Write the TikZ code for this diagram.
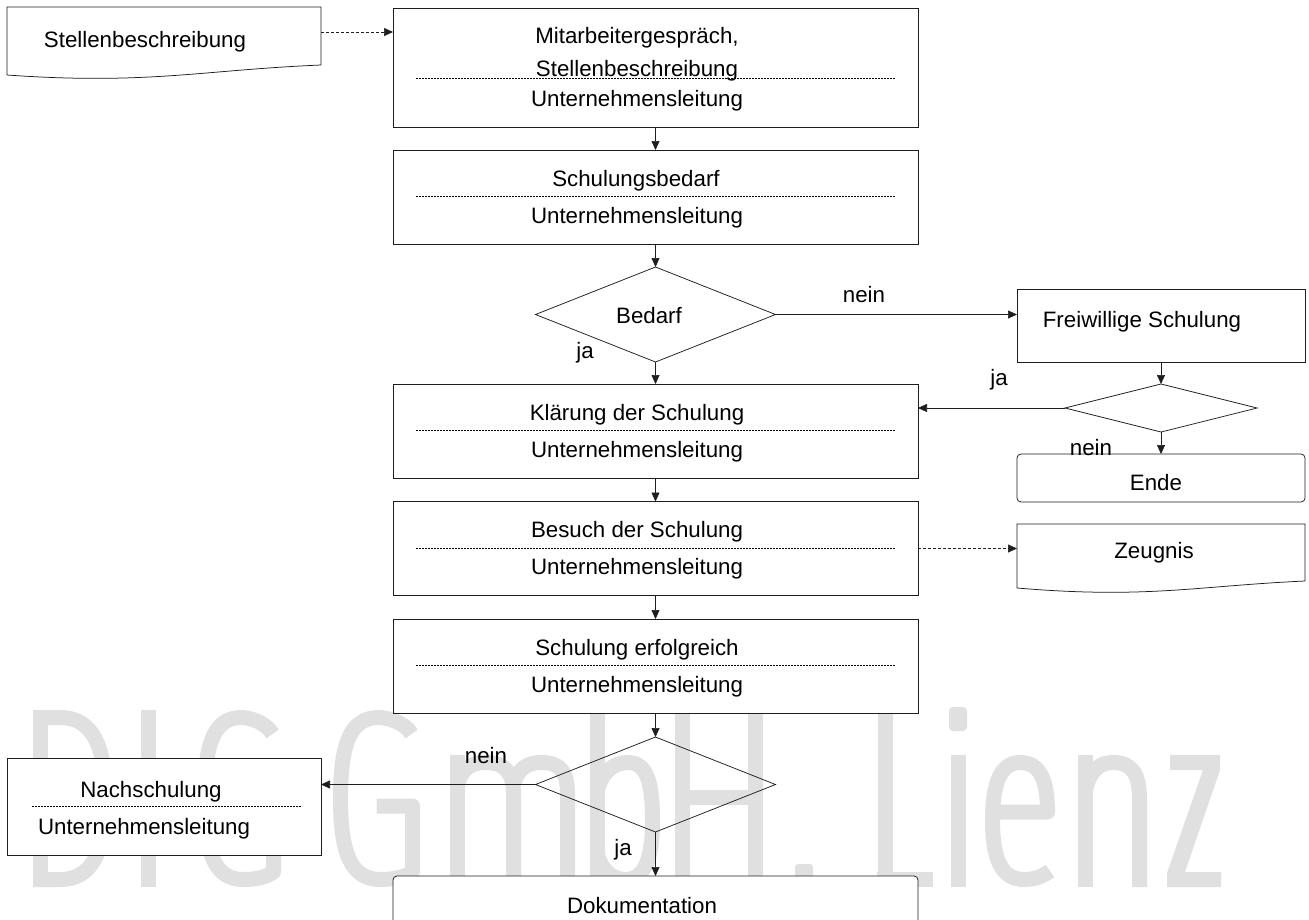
\documentclass[tikz,border=0pt]{standalone}
\usepackage{fontspec}
\setmainfont{Liberation Sans}
\usetikzlibrary{arrows.meta,shapes.geometric,calc}
\definecolor{wmgray}{RGB}{224,224,224}
\definecolor{edge}{RGB}{30,30,30}

\begin{document}
\begin{tikzpicture}[x=1pt,y=-1pt,
  every node/.style={inner sep=0pt, outer sep=0pt},
  lbl/.style={font=\fontsize{22.3}{26}\selectfont, anchor=base},
  proc/.style={draw=edge, fill=white, line width=0.75pt, rectangle,
    minimum width=525pt, minimum height=94pt},
  sidebox/.style={draw=edge, fill=white, line width=0.75pt, rectangle},
  decision/.style={draw=edge, line width=0.75pt, diamond,
    minimum width=240pt, minimum height=95pt},
  frame/.style={rectangle, minimum width=#1},
  sep/.style={line width=0.6pt, dash pattern=on 2pt off 1pt},
  conn/.style={line width=0.65pt, draw=edge, -{Triangle[length=9pt,width=8pt]}},
  dconn/.style={conn, dash pattern=on 3pt off 2pt},
  docline/.style={draw=edge, fill=white, line width=0.75pt},
  wmstroke/.style={draw=wmgray, line width=15pt, line cap=butt, line join=round},
  wmfill/.style={fill=wmgray}
]
\useasboundingbox (0,0) rectangle (1309,919);
\fill[white] (0,0) rectangle (1309,919);
\clip (0,0) rectangle (1309,919);

% company lettering "DIG GmbH. Lienz" behind the chart (condensed sans, drawn as strokes)
\begin{scope}[wmstroke]
  % D
  \draw (40.5,710) -- (40.5,887);
  \draw (33,717.5) -- (60,717.5) .. controls (92,717.5) and (105.5,745) .. (105.5,798.5)
        .. controls (105.5,852) and (92,879.5) .. (60,879.5) -- (33,879.5);
  % I
  \draw (148.5,710) -- (148.5,887);
  % G
  \draw (272.5,734) .. controls (266,722) and (249,717.5) .. (241,717.5)
        .. controls (212.5,717.5) and (204.5,748) .. (204.5,798.5)
        .. controls (204.5,852) and (214.5,879.5) .. (243,879.5)
        .. controls (259,879.5) and (267.5,876) .. (273.5,872) -- (273.5,806) -- (239,806);
  % G
  \draw (411.5,734) .. controls (405,722) and (386.5,717.5) .. (378.5,717.5)
        .. controls (348.5,717.5) and (340.5,748) .. (340.5,798.5)
        .. controls (340.5,852) and (350.5,879.5) .. (380.5,879.5)
        .. controls (396.5,879.5) and (406.5,876) .. (412.5,872) -- (412.5,806) -- (376.5,806);
  % m
  \draw (457.5,755) -- (457.5,887);
  \draw (457.5,785) .. controls (462,768) and (472,762.5) .. (485,762.5)
        .. controls (505,762.5) and (513.5,772) .. (513.5,795) -- (513.5,887);
  \draw (513.5,785) .. controls (518,768) and (528,762.5) .. (541,762.5)
        .. controls (561,762.5) and (567.5,772) .. (567.5,795) -- (567.5,887);
  % b
  \draw (597.5,707) -- (597.5,887);
  \draw (597.5,790) .. controls (603,770) and (615,762.5) .. (628,762.5)
        .. controls (648,762.5) and (652.5,785) .. (652.5,821)
        .. controls (652.5,857) and (645,879.5) .. (626,879.5)
        .. controls (612,879.5) and (602,870) .. (597.5,855);
  % H
  \draw (682.5,710) -- (682.5,887);
  \draw (755.5,710) -- (755.5,887);
  \draw (682.5,797) -- (755.5,797);
  % L
  \draw (885,710) -- (885,887);
  \draw (877,879.5) -- (933,879.5);
  % i
  \draw (958,755) -- (958,887);
  % e
  \draw (992.5,812) -- (1047.5,812) .. controls (1047.5,780) and (1040,762.5) .. (1020,762.5)
        .. controls (1000,762.5) and (992.5,785) .. (992.5,820)
        .. controls (992.5,860) and (1002,879.5) .. (1024,879.5)
        .. controls (1035,879.5) and (1043,876) .. (1050,871);
  % n
  \draw (1085.5,755) -- (1085.5,887);
  \draw (1085.5,790) .. controls (1090,770) and (1100,762.5) .. (1113,762.5)
        .. controls (1133,762.5) and (1139.5,775) .. (1139.5,800) -- (1139.5,887);
\end{scope}
% full stop, dot of the i, and z
\fill[wmfill, rounded corners=3pt] (795,864) rectangle (813,887);
\fill[wmfill, rounded corners=4pt] (949,707) rectangle (967,731);
\fill[wmfill] (1170,755) -- (1220,755) -- (1220,770) -- (1185,872) -- (1221,872)
  -- (1221,887) -- (1167,887) -- (1167,873) -- (1203,770) -- (1170,770) -- cycle;

% decisions (outline only)
\node[decision] (d1) at (655.5,314.5) {};
\node[decision, minimum width=192pt, minimum height=48pt] (d2) at (1161,408) {};
\node[decision] (d3) at (655.5,784.5) {};

% main column of process boxes
\node[proc, minimum height=119pt] (b1) at (655.5,67.5) {};
\node[proc] (b2) at (655.5,197) {};
\node[proc] (b3) at (655.5,431) {};
\node[proc] (b4) at (655.5,548.5) {};
\node[proc] (b5) at (655.5,666) {};
\node[proc, rounded corners=4pt, minimum height=70pt] (dok) at (655.5,911) {};

% side boxes
\node[sidebox, minimum width=288pt, minimum height=73pt] (fs) at (1161,325.5) {};
\node[sidebox, rounded corners=4pt, minimum width=288pt, minimum height=48pt] (ende) at (1161,478) {};
\node[sidebox, minimum width=314pt, minimum height=97pt] (ns) at (164,806.5) {};

% document shapes
\node[frame=314pt, minimum height=58pt, anchor=north west] (sd) at (7,7) {};
\draw[docline] (sd.north west) -- (sd.north east) -- (sd.south east)
  .. controls ($(sd.south east)+(-119,5)$) and ($(sd.south west)+(141,20)$) ..
  ($(sd.south west)+(0,10)$) -- cycle;
\node[frame=288pt, minimum height=57pt, anchor=north west] (zg) at (1017,524) {};
\draw[docline] (zg.north west) -- (zg.north east) -- (zg.south east)
  .. controls ($(zg.south east)+(-109,5)$) and ($(zg.south west)+(130,18)$) ..
  ($(zg.south west)+(0,7)$) -- cycle;

% dotted separators between task and responsible party
\foreach \y in {78, 196, 430, 548, 665}
  \draw[sep] (416,\y) -- (895,\y);
\draw[sep] (32,806) -- (302,806);

% connectors
\coordinate (sdout) at ($(sd.north east)+(0,25)$);
\draw[dconn] (sdout) -- (sdout -| b1.west);
\draw[conn] (b1.south) -- (b2.north);
\draw[conn] (b2.south) -- (d1.north);
\draw[conn] (d1.south) -- (b3.north);
\draw[conn] (d1.east) -- (d1.east -| fs.west);
\draw[conn] (fs.south) -- (d2.north);
\draw[conn] (d2.west) -- (d2.west -| b3.east);
\draw[conn] (d2.south) -- (ende.north);
\draw[conn] (b3.south) -- (b4.north);
\draw[dconn] (b4.east) -- (b4.east -| zg.west);
\draw[conn] (b4.south) -- (b5.north);
\draw[conn] (b5.south) -- (d3.north);
\draw[conn] (d3.west) -- (d3.west -| ns.east);
\draw[conn] (d3.south) -- (dok.north);

% texts
\node[lbl] (t-sd) at (145,47) {Stellenbeschreibung};
\node[lbl] (t-b1a) at (637,43) {Mitarbeitergespräch,};
\node[lbl] (t-b1b) at (637,76) {Stellenbeschreibung};
\node[lbl] (t-b1c) at (637,106) {Unternehmensleitung};
\node[lbl] (t-b2a) at (636,186) {Schulungsbedarf};
\node[lbl] (t-b2b) at (637,223) {Unternehmensleitung};
\node[lbl] (t-d1) at (649,323) {Bedarf};
\node[lbl] (t-d1n) at (864,302) {nein};
\node[lbl] (t-d1j) at (585,358) {ja};
\node[lbl] (t-fs) at (1142,327) {Freiwillige Schulung};
\node[lbl] (t-d2j) at (999,385) {ja};
\node[lbl] (t-d2n) at (1091,455) {nein};
\node[lbl] (t-ende) at (1156,490) {Ende};
\node[lbl] (t-b3a) at (637,420) {Klärung der Schulung};
\node[lbl] (t-b3b) at (637,457) {Unternehmensleitung};
\node[lbl] (t-b4a) at (637,537) {Besuch der Schulung};
\node[lbl] (t-b4b) at (637,574) {Unternehmensleitung};
\node[lbl] (t-zg) at (1154,558) {Zeugnis};
\node[lbl] (t-b5a) at (637,655) {Schulung erfolgreich};
\node[lbl] (t-b5b) at (637,692) {Unternehmensleitung};
\node[lbl] (t-d3n) at (486,763) {nein};
\node[lbl] (t-d3j) at (623,855) {ja};
\node[lbl] (t-ns1) at (151,797) {Nachschulung};
\node[lbl] (t-ns2) at (144,834) {Unternehmensleitung};
\node[lbl] (t-dok) at (642,913) {Dokumentation};
\end{tikzpicture}
\end{document}
